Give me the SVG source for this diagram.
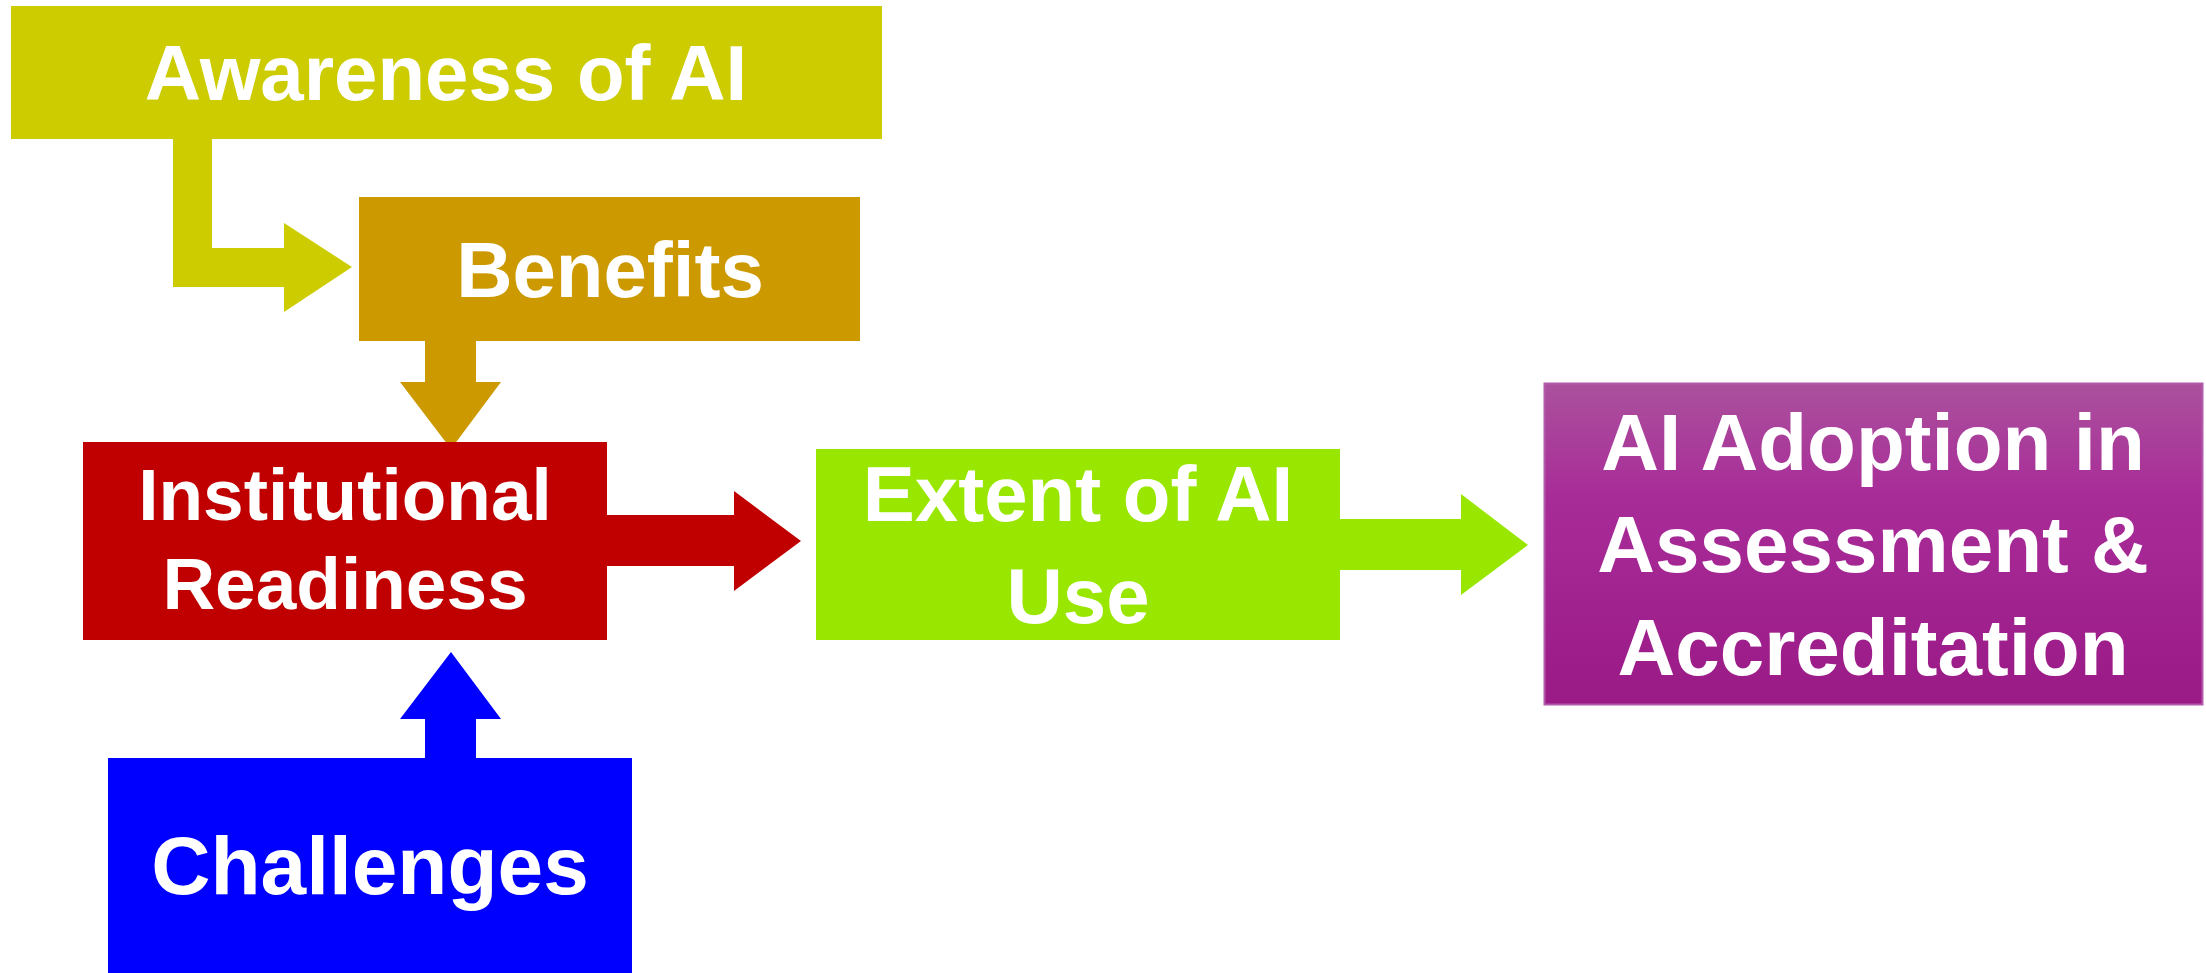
<svg xmlns="http://www.w3.org/2000/svg" width="2206" height="973" viewBox="0 0 2206 973">
<defs>
<linearGradient id="pg" x1="0" y1="0" x2="0" y2="1">
<stop offset="0" stop-color="#AB519D"/>
<stop offset="0.35" stop-color="#A82C98"/>
<stop offset="1" stop-color="#9A1A86"/>
</linearGradient>
</defs>
<style>
.t{font-family:"Liberation Sans",Arial,sans-serif;font-weight:bold;font-size:78px;fill:#FFFFFF;text-anchor:middle}
.s{font-size:73px}
.c{font-size:82px}
.p{font-size:80px}
</style>
<rect width="2206" height="973" fill="#FFFFFF"/>
<g id="connectors">
<path d="M173,139 L173,287 L284,287 L284,312 L352,267 L284,223 L284,248 L212,248 L212,139 Z" fill="#CCCC00"/>
<path d="M425,341 L425,382 L400,382 L451,449 L501,382 L476,382 L476,341 Z" fill="#CC9900"/>
<path d="M607,515 L734,515 L734,491 L801,541 L734,591 L734,566 L607,566 Z" fill="#C00000"/>
<path d="M425,758 L425,719 L400,719 L451,652 L501,719 L476,719 L476,758 Z" fill="#0000FF"/>
<path d="M1340,519 L1461,519 L1461,494 L1528,545 L1461,595 L1461,570 L1340,570 Z" fill="#99E600"/>
</g>
<g id="awareness">
<rect x="11" y="6" width="871" height="133" fill="#CCCC00"/>
<text class="t" x="446" y="100">Awareness of AI</text>
</g>
<g id="benefits">
<rect x="359" y="197" width="501" height="144" fill="#CC9900"/>
<text class="t" x="610" y="297">Benefits</text>
</g>
<g id="institutional">
<rect x="83" y="442" width="524" height="198" fill="#C00000"/>
<text class="t s" x="345" y="520">Institutional</text>
<text class="t s" x="345" y="609">Readiness</text>
</g>
<g id="challenges">
<rect x="108" y="758" width="524" height="215" fill="#0000FF"/>
<text class="t c" x="370" y="894">Challenges</text>
</g>
<g id="extent">
<rect x="816" y="449" width="524" height="191" fill="#99E600"/>
<text class="t" x="1078" y="521">Extent of AI</text>
<text class="t" x="1078" y="623">Use</text>
</g>
<g id="adoption">
<rect x="1544.5" y="383.5" width="658" height="321" fill="url(#pg)" stroke="#B45AAA" stroke-width="2"/>
<text class="t p" x="1873" y="470">AI Adoption in</text>
<text class="t p" x="1873" y="572">Assessment &amp;</text>
<text class="t p" x="1873" y="675">Accreditation</text>
</g>
</svg>
